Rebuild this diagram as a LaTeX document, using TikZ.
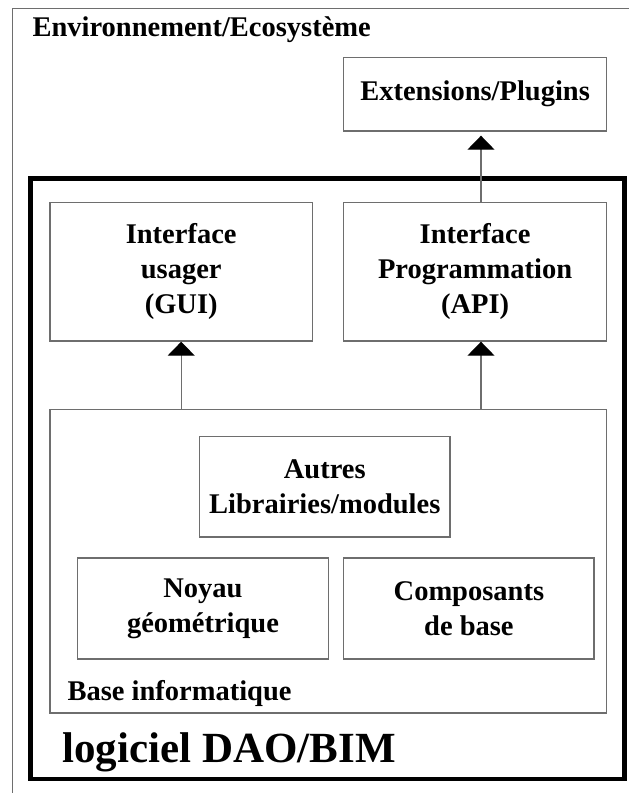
\documentclass[tikz,border=0pt]{standalone}
\usepackage{fontspec}
\setmainfont{Liberation Serif}
\usetikzlibrary{arrows.meta}

\definecolor{boxgray}{HTML}{6E6E6E}

\begin{document}
\begin{tikzpicture}[x=1pt,y=-1pt,
    txt/.style={font=\fontsize{28.5}{35}\selectfont\bfseries},
    box/.style={draw=boxgray,line width=1.3pt,inner sep=0pt,align=center,txt},
    arr/.style={draw=boxgray,line width=1.3pt,-{Triangle[length=14pt,width=27pt,black]}}]
                \useasboundingbox (0,0) rectangle (629,793);

                % Environment frame
                \draw[boxgray,line width=1.3pt] (12.3,793) -- (12.3,8.3) -- (629,8.3);
                \node[txt,anchor=base west] (envlabel) at (29,36) {Environnement/Ecosystème};

                % Extensions
                \node[box,minimum width=262.6pt,minimum height=73.7pt] (ext) at (475.1,94.2) {Extensions/Plugins};

                % Software frame
                \node[draw,line width=4.6pt,minimum width=594pt,minimum height=600.5pt] (soft) at (327.6,478.8) {};
                \node[anchor=base west,font=\fontsize{43}{50}\selectfont\bfseries] (softlabel) at (59,762) {logiciel DAO/BIM};

                % Interfaces
                \node[box,minimum width=262.4pt,minimum height=138.3pt] (gui) at (181.2,271.9) {Interface\\usager\\(GUI)};
                \node[box,minimum width=262.6pt,minimum height=138.3pt] (api) at (475.1,271.9) {Interface\\Programmation\\(API)};

                % Base
                \node[box,minimum width=556.4pt,minimum height=303.7pt] (base) at (328.2,561.2) {};
                \node[txt,anchor=base west] (baselabel) at (64,700) {Base informatique};
                \node[box,minimum width=250.4pt,minimum height=100.3pt] (autres) at (324.8,486.9) {Autres\\Librairies/modules};
                \node[box,minimum width=251pt,minimum height=101pt] (noyau) at (203,608.5) {Noyau\\géométrique};
                \node[box,minimum width=250.2pt,minimum height=101pt] (comp) at (468.9,608.5) {Composants\\de base};

                % Links
                \coordinate (apix) at (481,0);
                \draw[arr] (gui.south |- base.north) -- (gui.south);
                \draw[arr] (apix |- base.north) -- (apix |- api.south);
                \draw[arr,shorten >=4pt] (apix |- api.north) -- (apix |- ext.south);
            \end{tikzpicture}
\end{document}
